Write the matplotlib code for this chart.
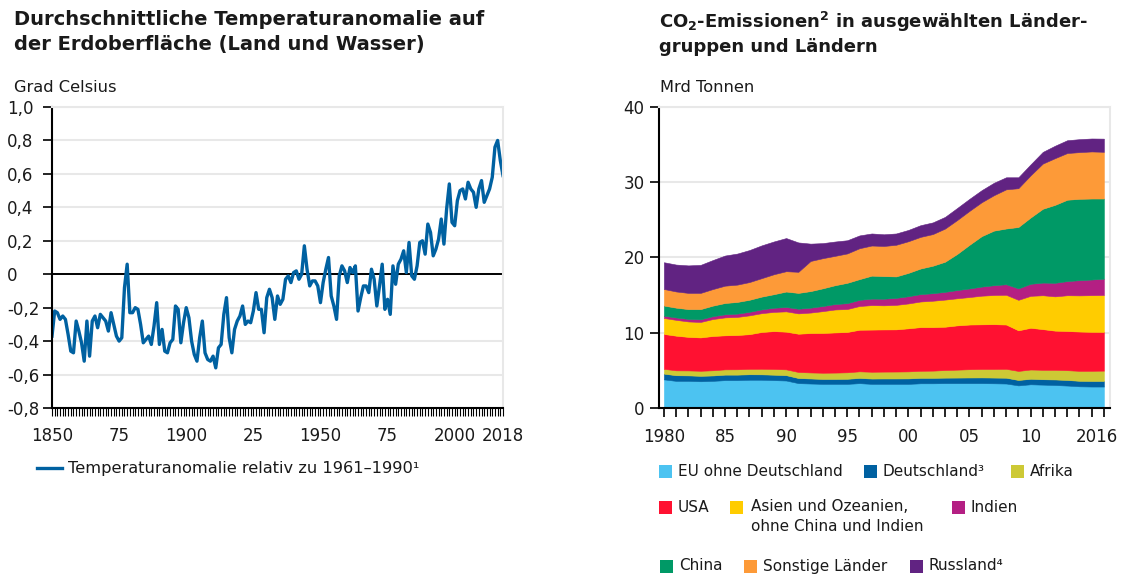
import numpy as np
import matplotlib.pyplot as plt
from matplotlib.patches import Rectangle
from matplotlib.lines import Line2D
from matplotlib.transforms import ScaledTranslation

# --- Temperaturanomalie (Grad Celsius, relativ zu 1961-1990) ---
temp_years = np.arange(1850, 2019)
temp = [
    -0.37, -0.22, -0.23, -0.27, -0.25, -0.27, -0.36, -0.46, -0.47, -0.28,
    -0.34, -0.41, -0.52, -0.28, -0.49, -0.28, -0.25, -0.32, -0.24, -0.26,
    -0.28, -0.34, -0.23, -0.30, -0.37, -0.40, -0.38, -0.08, 0.06, -0.23,
    -0.23, -0.20, -0.21, -0.30, -0.41, -0.39, -0.37, -0.42, -0.31, -0.17,
    -0.42, -0.33, -0.46, -0.47, -0.41, -0.39, -0.19, -0.21, -0.41, -0.29,
    -0.20, -0.26, -0.40, -0.48, -0.52, -0.38, -0.28, -0.47, -0.51, -0.52,
    -0.49, -0.56, -0.44, -0.42, -0.24, -0.14, -0.38, -0.47, -0.33, -0.28,
    -0.25, -0.19, -0.30, -0.28, -0.29, -0.22, -0.11, -0.21, -0.21, -0.35,
    -0.14, -0.09, -0.14, -0.27, -0.13, -0.18, -0.15, -0.03, -0.01, -0.05,
    0.01, 0.02, -0.03, 0.00, 0.17, 0.03, -0.07, -0.04, -0.04, -0.07,
    -0.17, -0.05, 0.03, 0.10, -0.13, -0.19, -0.27, -0.01, 0.05, 0.02,
    -0.05, 0.04, 0.01, 0.05, -0.22, -0.14, -0.07, -0.07, -0.11, 0.03,
    -0.03, -0.19, -0.07, 0.06, -0.21, -0.15, -0.24, 0.05, -0.06, 0.06,
    0.09, 0.14, 0.01, 0.19, -0.01, -0.03, 0.05, 0.19, 0.20, 0.12,
    0.30, 0.25, 0.11, 0.15, 0.21, 0.33, 0.18, 0.39, 0.54, 0.31,
    0.29, 0.44, 0.50, 0.51, 0.45, 0.55, 0.51, 0.49, 0.40, 0.51,
    0.56, 0.43, 0.47, 0.51, 0.58, 0.76, 0.80, 0.68, 0.59,
]
temp_ticks = [1850, 1875, 1900, 1925, 1950, 1975, 2000, 2018]
temp_ticklabels = ['1850', '75', '1900', '25', '1950', '75', '2000', '2018']
temp_yticks = [-0.8, -0.6, -0.4, -0.2, 0.0, 0.2, 0.4, 0.6, 0.8, 1.0]
temp_yticklabels = ['-0,8', '-0,6', '-0,4', '-0,2', '0', '0,2', '0,4', '0,6', '0,8', '1,0']

# --- CO2-Emissionen (Mrd Tonnen) ---
co2_years = np.arange(1980, 2017)
eu = [3.80, 3.60, 3.60, 3.55, 3.60, 3.70, 3.70, 3.75, 3.75, 3.70, 3.65, 3.30, 3.25,
      3.20, 3.20, 3.20, 3.30, 3.20, 3.20, 3.20, 3.20, 3.28, 3.28, 3.30, 3.30, 3.30,
      3.30, 3.28, 3.25, 3.00, 3.15, 3.10, 3.05, 2.98, 2.88, 2.85, 2.85]
de = [0.76, 0.75, 0.73, 0.72, 0.72, 0.73, 0.73, 0.73, 0.72, 0.72, 0.71, 0.68, 0.67,
      0.66, 0.66, 0.68, 0.69, 0.71, 0.72, 0.72, 0.73, 0.72, 0.72, 0.73, 0.74, 0.75,
      0.76, 0.76, 0.77, 0.72, 0.73, 0.72, 0.74, 0.74, 0.73, 0.74, 0.74]
afrika = [0.64, 0.65, 0.66, 0.67, 0.69, 0.70, 0.71, 0.72, 0.74, 0.76, 0.77, 0.80, 0.80,
          0.82, 0.84, 0.86, 0.88, 0.90, 0.91, 0.92, 0.93, 0.94, 0.96, 1.01, 1.05, 1.10,
          1.12, 1.14, 1.18, 1.20, 1.23, 1.25, 1.28, 1.30, 1.32, 1.35, 1.37]
usa = [4.63, 4.60, 4.45, 4.43, 4.55, 4.52, 4.55, 4.60, 4.88, 5.03, 5.00, 5.08, 5.23,
       5.28, 5.33, 5.35, 5.52, 5.60, 5.60, 5.60, 5.72, 5.80, 5.78, 5.75, 5.88, 5.93,
       5.93, 5.95, 5.88, 5.39, 5.54, 5.40, 5.20, 5.20, 5.22, 5.17, 5.14]
asien = [2.12, 2.10, 2.05, 2.05, 2.25, 2.38, 2.40, 2.50, 2.50, 2.55, 2.70, 2.70, 2.72,
         2.90, 3.05, 3.05, 3.15, 3.25, 3.20, 3.25, 3.30, 3.40, 3.50, 3.60, 3.60, 3.65,
         3.80, 3.87, 3.95, 4.05, 4.24, 4.50, 4.55, 4.75, 4.80, 4.87, 4.90]
indien = [0.30, 0.32, 0.34, 0.36, 0.38, 0.41, 0.44, 0.47, 0.50, 0.55, 0.58, 0.62, 0.65,
          0.68, 0.72, 0.78, 0.82, 0.86, 0.88, 0.93, 0.96, 0.98, 1.00, 1.03, 1.09, 1.14,
          1.21, 1.30, 1.40, 1.52, 1.60, 1.68, 1.80, 1.88, 2.02, 2.08, 2.16]
china = [1.35, 1.30, 1.30, 1.35, 1.40, 1.50, 1.55, 1.60, 1.70, 1.80, 2.05, 2.10, 2.20,
         2.35, 2.50, 2.70, 2.75, 3.05, 3.00, 2.85, 3.10, 3.40, 3.65, 4.00, 4.80, 5.80,
         6.70, 7.25, 7.40, 8.15, 8.80, 9.80, 10.35, 10.80, 10.80, 10.75, 10.65]
sonstige = [2.20, 2.15, 2.15, 2.15, 2.20, 2.30, 2.30, 2.35, 2.45, 2.65, 2.70, 2.80, 4.00,
            4.00, 3.90, 3.90, 4.10, 4.00, 4.00, 4.20, 4.20, 4.20, 4.20, 4.40, 4.50, 4.50,
            4.50, 4.70, 5.20, 5.15, 5.60, 6.00, 6.20, 6.20, 6.20, 6.25, 6.20]
russland = [3.55, 3.57, 3.65, 3.72, 3.85, 4.00, 4.12, 4.25, 4.35, 4.35, 4.40, 3.90, 2.30,
            2.00, 1.90, 1.75, 1.70, 1.60, 1.55, 1.50, 1.50, 1.55, 1.55, 1.55, 1.60, 1.60,
            1.60, 1.65, 1.60, 1.45, 1.45, 1.55, 1.65, 1.70, 1.72, 1.72, 1.75]
co2_ticks = [1980, 1985, 1990, 1995, 2000, 2005, 2010, 2016]
co2_ticklabels = ['1980', '85', '90', '95', '00', '05', '10', '2016']
co2_yticks = [0, 10, 20, 30, 40]

colors = ['#4cc3f1', '#0061a1', '#cdc935', '#ff1131', '#ffcc00',
          '#b41f83', '#009966', '#fd9a38', '#612382']
labels = ['EU ohne Deutschland', 'Deutschland³', 'Afrika', 'USA',
          'Asien und Ozeanien,\nohne China und Indien', 'Indien', 'China',
          'Sonstige Länder', 'Russland⁴']

TXT = '#1a1a1a'
GRID = '#e8e8e8'
BLUE = '#0061a1'
W, H = 1121, 577

plt.rcParams['font.family'] = ['DejaVu Sans']
fig = plt.figure(figsize=(W / 100, H / 100), dpi=100)


def fx(x):
    return x / W


def fy(y):
    return 1 - y / H


def style_axes(ax):
    ax.set_axisbelow(True)
    ax.yaxis.grid(True, color=GRID, lw=1.5)
    for s in ['top', 'right']:
        ax.spines[s].set_color(GRID)
        ax.spines[s].set_linewidth(1.5)
    for s in ['left', 'bottom']:
        ax.spines[s].set_color('black')
        ax.spines[s].set_linewidth(1.5)
    ax.tick_params(axis='both', which='both', direction='out', color='black',
                   labelcolor=TXT, labelsize=12)


# left chart
ax1 = fig.add_axes([fx(52), fy(408), fx(503) - fx(52), fy(107) - fy(408)])
style_axes(ax1)
ax1.plot(temp_years, temp, color=BLUE, lw=2.4)
ax1.axhline(0, color='black', lw=1.4, zorder=1.5)
ax1.set_xlim(1850, 2018)
ax1.set_ylim(-0.8, 1.0)
ax1.set_yticks(temp_yticks)
ax1.set_yticklabels(temp_yticklabels)
for lab in ax1.get_yticklabels():
    lab.set_ha('left')
ax1.tick_params(axis='y', length=6.5, width=1.2, pad=26)
ax1.set_xticks(temp_ticks)
ax1.set_xticklabels(temp_ticklabels)
ax1.set_xticks(temp_years, minor=True)
ax1.tick_params(axis='x', which='both', length=6, width=0.8, pad=8)

# right chart
ax2 = fig.add_axes([fx(659), fy(408), fx(1110) - fx(659), fy(106.7) - fy(408)])
style_axes(ax2)
ax2.stackplot(co2_years, eu, de, afrika, usa, asien, indien, china, sonstige, russland,
              colors=colors, lw=0.4, edgecolor='face')
ax2.set_xlim(1979.6, 2016.5)
ax2.set_ylim(0, 40)
ax2.set_yticks(co2_yticks)
ax2.tick_params(axis='y', length=6.5, width=1.2, pad=4)
ax2.set_xticks(co2_ticks)
ax2.set_xticklabels(co2_ticklabels)
ax2.set_xticks(co2_years, minor=True)
ax2.tick_params(axis='x', which='both', length=6.5, width=1.2, pad=8)
last = ax2.get_xticklabels()[-1]
last.set_transform(last.get_transform() + ScaledTranslation(-0.07, 0, fig.dpi_scale_trans))

# titles and units
fig.text(fx(14), fy(10), 'Durchschnittliche Temperaturanomalie auf\nder Erdoberfläche (Land und Wasser)',
         fontsize=14, fontweight='bold', color=TXT, va='top', ha='left', linespacing=1.4)
fig.text(fx(659), fy(10), r'CO$_\mathbf{2}$-Emissionen$^\mathbf{2}$ in ausgewählten Länder-',
         fontsize=13, fontweight='bold', color=TXT, va='top', ha='left')
fig.text(fx(659), fy(38), 'gruppen und Ländern',
         fontsize=13, fontweight='bold', color=TXT, va='top', ha='left')
fig.text(fx(14), fy(87), 'Grad Celsius', fontsize=11.7, color=TXT, va='center', ha='left')
fig.text(fx(660), fy(87), 'Mrd Tonnen', fontsize=11.7, color=TXT, va='center', ha='left')

# left legend
fig.add_artist(Line2D([fx(37), fx(62)], [fy(468), fy(468)], color=BLUE, lw=2.4,
                      transform=fig.transFigure))
fig.text(fx(68), fy(468), 'Temperaturanomalie relativ zu 1961–1990¹', fontsize=11.7,
         color=TXT, va='center', ha='left')

# right legend
legend_pos = [(659, 471), (864, 471), (1011, 471),
              (659, 507), (730, 507), (952, 507),
              (660, 566), (744, 566), (910, 566)]
for (x, y), c, lab in zip(legend_pos, colors, labels):
    fig.add_artist(Rectangle((fx(x), fy(y + 6.5)), 13 / W, 13 / H, color=c,
                             transform=fig.transFigure, lw=0))
    if '\n' in lab:
        fig.text(fx(x + 21), fy(y - 8), lab, fontsize=11, color=TXT, va='top', ha='left',
                 linespacing=1.45)
    else:
        fig.text(fx(x + 19), fy(y), lab, fontsize=11, color=TXT, va='center', ha='left')

fig.savefig('out.png', dpi=100)
